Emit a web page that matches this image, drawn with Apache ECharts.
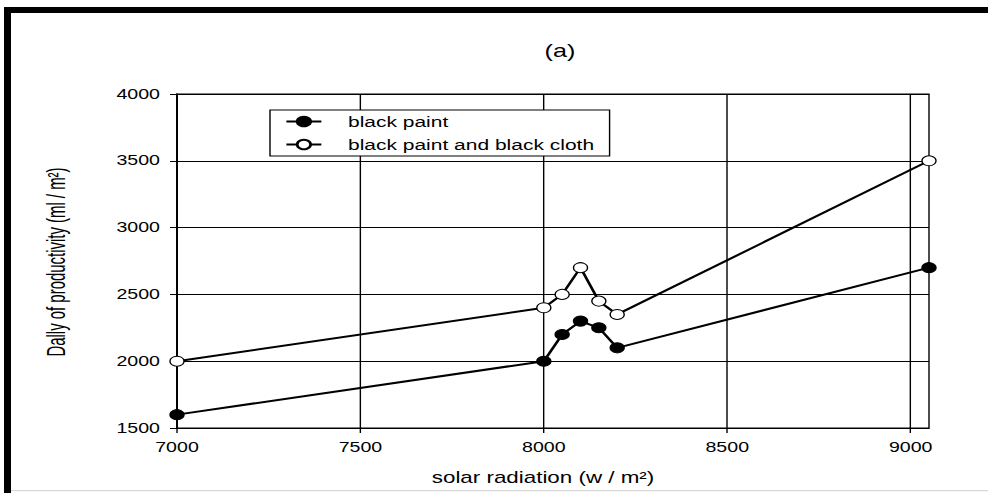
<!DOCTYPE html>
<html>
<head>
<meta charset="utf-8">
<title>Daily productivity vs solar radiation</title>
<script src="https://cdn.jsdelivr.net/npm/echarts@6/dist/echarts.min.js"></script>
<style>
  html, body { margin: 0; padding: 0; background: #fff; width: 988px; height: 493px; overflow: hidden; }
  /* the figure is drawn in a narrower box and widened horizontally */
  #chart { width: 706px; height: 493px; transform: scaleX(1.39943); transform-origin: 0 0; }
</style>
</head>
<body>
<div id="chart"></div>
<script>
// solar radiation (w / m²) at each measurement
const radiation = [7000, 8000, 8050, 8100, 8150, 8200, 9050];
// daily productivity (ml / m²)
const blackPaint = [1600, 2000, 2200, 2300, 2250, 2100, 2700];
const blackPaintCloth = [2000, 2400, 2500, 2700, 2450, 2350, 3500];
const seriesNames = ['black paint', 'black paint and black cloth'];
const radiationTicks = [7000, 7500, 8000, 8500, 9000];
const productivityTicks = [1500, 2000, 2500, 3000, 3500, 4000];

const BOX_W = 706;
const SX = 988 / BOX_W;           // horizontal widening factor
const sx = v => v / SX;           // screen x -> box x
const FONT = '"Liberation Sans", Arial, Helvetica, sans-serif';

const pairs = ys => radiation.map((x, i) => [x, ys[i]]);
const plain = v => String(v);

const chart = echarts.init(document.getElementById('chart'), null, { renderer: 'svg' });

chart.setOption({
  animation: false,
  backgroundColor: '#fff',
  title: {
    text: '(a)',
    left: sx(553),
    top: 37,
    textAlign: 'center',
    textStyle: { fontFamily: FONT, fontSize: 18, fontWeight: 'normal', color: '#000' }
  },
  grid: {
    left: sx(177),
    right: BOX_W - sx(929),
    top: 94,
    bottom: 493 - 428,
    show: true,
    borderColor: '#000',
    borderWidth: 1,
    backgroundColor: 'transparent'
  },
  legend: {
    orient: 'vertical',
    left: sx(270),
    top: 110,
    padding: [4, 11, 4, sx(285) - sx(270)],
    itemWidth: 25,
    itemHeight: 12,
    itemGap: 8,
    backgroundColor: '#fff',
    borderColor: '#000',
    borderWidth: 1,
    borderRadius: 0,
    textStyle: { fontFamily: FONT, fontSize: 15, color: '#000', padding: [0, 0, 0, 14] },
    data: seriesNames
  },
  xAxis: {
    type: 'value',
    min: 7000,
    max: 9050,
    interval: 500,
    axisLine: { show: true, onZero: false, lineStyle: { color: '#000', width: 1 } },
    axisTick: { show: true, length: 5, customValues: radiationTicks, lineStyle: { color: '#000', width: 1 } },
    axisLabel: {
      customValues: radiationTicks,
      formatter: plain,
      margin: 12,
      fontFamily: FONT,
      fontSize: 14,
      color: '#000'
    },
    splitLine: { show: true, lineStyle: { color: '#000', width: 1 } }
  },
  yAxis: {
    type: 'value',
    min: 1500,
    max: 4000,
    interval: 500,
    axisLine: { show: true, onZero: false, lineStyle: { color: '#000', width: 1.3 } },
    axisTick: { show: true, length: sx(7), customValues: productivityTicks, lineStyle: { color: '#000', width: 1 } },
    axisLabel: {
      customValues: productivityTicks,
      formatter: plain,
      margin: sx(17),
      fontFamily: FONT,
      fontSize: 14,
      color: '#000'
    },
    splitLine: { show: true, lineStyle: { color: '#000', width: 1 } }
  },
  series: [
    {
      name: seriesNames[0],
      type: 'line',
      data: pairs(blackPaint),
      symbol: 'circle',
      symbolSize: 10,
      lineStyle: { color: '#000', width: 2 },
      itemStyle: { color: '#000', borderColor: '#000', borderWidth: 1 },
      z: 3
    },
    {
      name: seriesNames[1],
      type: 'line',
      data: pairs(blackPaintCloth),
      symbol: 'circle',
      symbolSize: 10,
      lineStyle: { color: '#000', width: 2 },
      itemStyle: { color: '#fff', borderColor: '#000', borderWidth: 1 },
      z: 3
    }
  ],
  graphic: [
    // frame bars along the top and the left edge
    { type: 'rect', shape: { x: sx(4), y: 7, width: BOX_W, height: 6 }, style: { fill: '#000' }, silent: true },
    { type: 'rect', shape: { x: sx(4), y: 7, width: sx(7), height: 486 }, style: { fill: '#000' }, silent: true },
    { type: 'rect', shape: { x: sx(11), y: 490, width: BOX_W, height: 1.2 }, style: { fill: '#d8d8d8' }, silent: true },
    // axis titles
    {
      type: 'text',
      x: sx(543),
      y: 477,
      style: {
        text: 'solar radiation (w / m²)',
        fontFamily: FONT,
        fontSize: 16,
        fill: '#000',
        align: 'center',
        verticalAlign: 'middle'
      },
      silent: true
    },
    {
      type: 'text',
      x: sx(56),
      y: 262,
      rotation: Math.PI / 2,
      scaleX: 0.83,
      style: {
        text: 'Dally of productivity (ml / m²)',
        fontFamily: FONT,
        fontSize: 18,
        fill: '#000',
        align: 'center',
        verticalAlign: 'middle'
      },
      silent: true
    }
  ]
});
</script>
</body>
</html>
